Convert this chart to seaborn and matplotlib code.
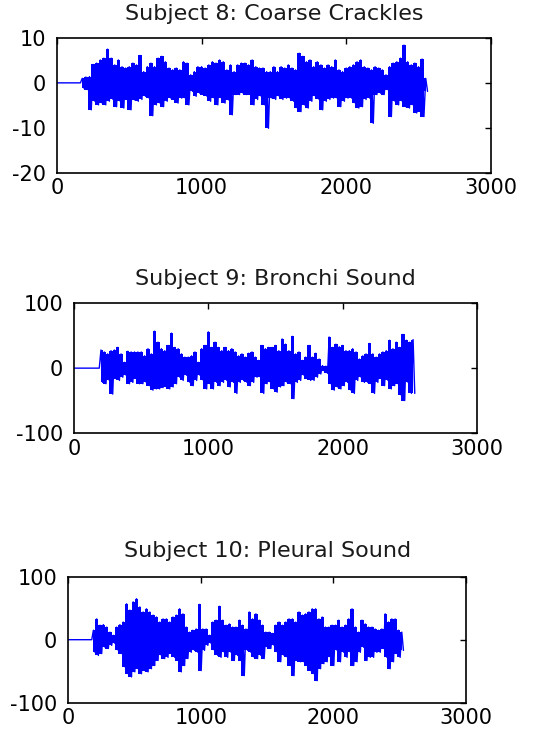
import numpy as np
import pandas as pd
import matplotlib
matplotlib.use("Agg")
import matplotlib.pyplot as plt
import seaborn as sns

# -----------------------------
# Data (envelope of each recording, one value every 25 samples)
# -----------------------------
titles = ["Subject 8: Coarse Crackles", "Subject 9: Bronchi Sound", "Subject 10: Pleural Sound"]
xticks = [0, 1000, 2000, 3000]
yticks_8 = [-20, -10, 0, 10]
yticks_9 = [-100, 0, 100]
yticks_10 = [-100, 0, 100]
step = 25

start_8 = 175
up_8 = [1.0, 1.3, 1.4, 4.1, 4.4, 5.1, 5.5, 7.5, 5.5, 4.0,
        5.1, 3.6, 3.3, 3.6, 4.4, 4.0, 6.1, 2.5, 3.6, 4.4,
        3.6, 5.5, 5.9, 4.7, 3.3, 2.9, 3.3, 2.9, 4.7, 4.4,
        1.8, 2.5, 3.6, 3.6, 3.3, 4.0, 4.7, 4.4, 5.1, 4.7,
        2.9, 4.0, 2.5, 4.0, 4.4, 4.4, 4.0, 5.1, 3.6, 3.3,
        3.3, 2.5, 2.5, 3.6, 2.5, 3.6, 3.3, 4.0, 3.3, 2.9,
        6.6, 5.9, 4.7, 5.1, 3.6, 4.7, 4.0, 3.3, 4.0, 3.6,
        5.1, 2.9, 2.5, 3.3, 3.6, 4.0, 4.7, 5.1, 3.6, 3.3,
        2.9, 3.6, 3.3, 2.9, 1.8, 3.6, 4.4, 4.7, 5.5, 8.4,
        4.7, 4.0, 4.4, 3.6, 5.3, 1.0]
low_8 = [-1.2, -1.5, -6.0, -4.1, -4.9, -4.5, -4.9, -4.1, -3.7, -5.3,
         -4.1, -5.6, -3.8, -6.0, -3.8, -4.1, -3.7, -3.0, -3.4, -7.3,
         -4.9, -4.5, -5.3, -4.1, -3.4, -3.8, -4.5, -3.4, -3.4, -4.9,
         -1.9, -3.0, -2.3, -2.6, -3.0, -4.1, -3.4, -4.9, -3.4, -4.5,
         -3.8, -7.1, -2.6, -2.6, -2.3, -2.6, -2.6, -4.9, -3.7, -3.0,
         -4.9, -10.1, -3.4, -3.7, -3.0, -3.7, -3.4, -3.4, -4.1, -5.6,
         -6.4, -4.9, -5.6, -4.1, -3.0, -3.7, -6.0, -4.1, -3.7, -3.4,
         -3.4, -5.3, -4.1, -3.4, -3.4, -4.5, -5.6, -5.3, -3.7, -3.4,
         -9.0, -2.6, -2.3, -2.6, -1.5, -7.5, -4.1, -4.9, -4.1, -5.3,
         -5.6, -4.9, -6.7, -6.4, -7.5, -1.9]

start_9 = 200
up_9 = [28, 25, 22, 27, 28, 32, 22, 9, 26, 25,
        25, 25, 25, 19, 30, 22, 57, 40, 30, 27,
        35, 54, 32, 30, 22, 17, 17, 19, 25, 9,
        30, 35, 56, 32, 40, 32, 27, 32, 27, 30,
        25, 19, 22, 17, 23, 25, 17, 12, 35, 30,
        32, 32, 35, 27, 45, 37, 27, 49, 22, 25,
        12, 17, 35, 17, 23, 14, 4, 3, 48, 32,
        37, 33, 35, 27, 27, 30, 25, 14, 19, 22,
        38, 22, 17, 22, 25, 27, 43, 30, 40, 32,
        52, 43, 40, 44]
low_9 = [-22, -24, -19, -40, -16, -19, -14, -11, -24, -22,
         -16, -24, -24, -22, -27, -34, -32, -32, -30, -29,
         -32, -29, -24, -14, -19, -11, -22, -27, -19, -11,
         -19, -32, -24, -32, -22, -27, -22, -19, -29, -22,
         -39, -22, -19, -22, -27, -22, -14, -14, -39, -24,
         -22, -32, -37, -29, -27, -22, -24, -47, -22, -19,
         -11, -16, -19, -19, -14, -9, -4, -8, -24, -34,
         -29, -32, -27, -22, -34, -39, -19, -14, -22, -22,
         -24, -39, -22, -16, -27, -19, -32, -27, -24, -42,
         -50, -22, -39, -39]

start_10 = 190
up_10 = [15, 33, 23, 24, 20, 12, 7, 20, 24, 28,
         57, 47, 60, 65, 52, 44, 49, 44, 39, 36,
         28, 33, 33, 28, 36, 39, 49, 41, 20, 12,
         15, 17, 56, 17, 17, 7, 28, 31, 53, 31,
         23, 25, 20, 20, 31, 23, 17, 44, 33, 41,
         31, 23, 12, 12, 10, 23, 28, 23, 28, 33,
         33, 28, 44, 39, 41, 44, 49, 49, 33, 36,
         20, 20, 23, 23, 31, 20, 23, 33, 49, 20,
         12, 31, 25, 20, 20, 17, 15, 17, 41, 28,
         33, 33, 15, 12]
low_10 = [-20, -25, -22, -12, -14, -9, -6, -17, -22, -43,
          -54, -59, -51, -46, -54, -49, -51, -46, -41, -33,
          -25, -30, -28, -22, -28, -33, -51, -41, -30, -20,
          -17, -20, -49, -17, -9, -6, -17, -25, -28, -20,
          -28, -20, -33, -25, -33, -57, -17, -20, -28, -30,
          -25, -30, -12, -14, -9, -20, -35, -25, -28, -41,
          -57, -33, -35, -35, -41, -49, -54, -65, -46, -38,
          -35, -28, -41, -17, -35, -20, -28, -20, -41, -35,
          -20, -12, -33, -28, -28, -20, -20, -14, -28, -46,
          -35, -22, -28, -17]


def build_signal(start, up, low):
    # flat line before the recording starts, then swing between the read peaks
    up = np.asarray(up, dtype=float)
    low = np.asarray(low, dtype=float)
    s = start + step * np.arange(len(up))
    x = np.column_stack([s, s + step / 2]).ravel()
    y = np.column_stack([up, low]).ravel()
    x = np.concatenate([[0, start - step / 2], x])
    y = np.concatenate([[0, 0], y])
    line = pd.DataFrame({"sample": x, "value": y})
    env = pd.DataFrame({"sample": s, "up": up, "low": low})
    return line, env


signals = [build_signal(start_8, up_8, low_8),
           build_signal(start_9, up_9, low_9),
           build_signal(start_10, up_10, low_10)]
ylims = [(-20, 10), (-100, 100), (-100, 100)]
yticks = [yticks_8, yticks_9, yticks_10]

# -----------------------------
# Figure
# -----------------------------
sns.set_style("white")
plt.rcParams['font.family'] = ['DejaVu Sans']
plt.rcParams['axes.unicode_minus'] = False

blue = "#0000ff"
fig = plt.figure(figsize=(5.37, 7.29), dpi=100)
positions = [[0.106, 0.763, 0.808, 0.185],
             [0.138, 0.406, 0.750, 0.178],
             [0.127, 0.036, 0.741, 0.173]]
title_pads = [13, 13, 14]

for pos, (line, env), title, ylim, yt, tp in zip(positions, signals, titles, ylims, yticks, title_pads):
    ax = fig.add_axes(pos)
    sns.lineplot(data=line, x="sample", y="value", sort=False, estimator=None,
                 color=blue, linewidth=1.0, ax=ax)
    # dense waveform drawn as a solid band between the read peaks
    ax.fill_between(env["sample"], env["low"], env["up"], step="mid",
                    color=blue, linewidth=0)
    ax.set_xlim(0, 3000)
    ax.set_ylim(*ylim)
    ax.set_xticks(xticks)
    ax.set_yticks(yt)
    ax.set_xlabel("")
    ax.set_ylabel("")
    ax.set_title(title, fontsize=16, color="#1a1a1a", pad=tp)
    ax.tick_params(direction="in", length=4, width=1, top=True, right=True,
                   labelsize=15, colors="black")
    ax.tick_params(axis="y", pad=8)
    ax.tick_params(axis="x", pad=4)
    for sp in ax.spines.values():
        sp.set_visible(True)
        sp.set_color("black")
        sp.set_linewidth(1.2)

fig.savefig("out.png", dpi=100)
